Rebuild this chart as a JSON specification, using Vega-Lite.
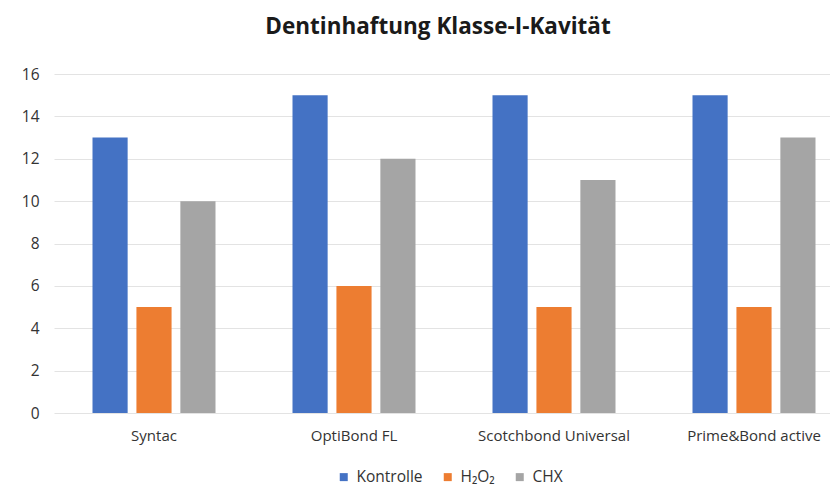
{
  "$schema": "https://vega.github.io/schema/vega-lite/v6.json",
  "autosize": "none",
  "width": 800,
  "height": 339,
  "padding": {"left": 54, "top": 74, "right": 0, "bottom": 79},
  "background": "white",
  "title": {
    "text": "Dentinhaftung Klasse-I-Kavität",
    "anchor": "middle",
    "frame": "group",
    "dx": -16,
    "offset": 29,
    "font": "Open Sans",
    "fontSize": 22.5,
    "fontWeight": "bold",
    "color": "#1a1a1a"
  },
  "data": {
    "values": [
      {"Adhäsiv": "Syntac", "Gruppe": "Kontrolle", "Wert": 13},
      {"Adhäsiv": "Syntac", "Gruppe": "H₂O₂", "Wert": 5},
      {"Adhäsiv": "Syntac", "Gruppe": "CHX", "Wert": 10},
      {"Adhäsiv": "OptiBond FL", "Gruppe": "Kontrolle", "Wert": 15},
      {"Adhäsiv": "OptiBond FL", "Gruppe": "H₂O₂", "Wert": 6},
      {"Adhäsiv": "OptiBond FL", "Gruppe": "CHX", "Wert": 12},
      {"Adhäsiv": "Scotchbond Universal", "Gruppe": "Kontrolle", "Wert": 15},
      {"Adhäsiv": "Scotchbond Universal", "Gruppe": "H₂O₂", "Wert": 5},
      {"Adhäsiv": "Scotchbond Universal", "Gruppe": "CHX", "Wert": 11},
      {"Adhäsiv": "Prime&Bond active", "Gruppe": "Kontrolle", "Wert": 15},
      {"Adhäsiv": "Prime&Bond active", "Gruppe": "H₂O₂", "Wert": 5},
      {"Adhäsiv": "Prime&Bond active", "Gruppe": "CHX", "Wert": 13}
    ]
  },
  "mark": {"type": "bar"},
  "encoding": {
    "x": {
      "field": "Adhäsiv",
      "type": "nominal",
      "sort": ["Syntac", "OptiBond FL", "Scotchbond Universal", "Prime&Bond active"],
      "scale": {"paddingInner": 0.385, "paddingOuter": 0.1925},
      "axis": {
        "title": null,
        "labelAngle": 0,
        "domain": false,
        "ticks": false,
        "labelFont": "Open Sans",
        "labelFontSize": 15,
        "labelColor": "#333333",
        "labelPadding": 15
      }
    },
    "xOffset": {
      "field": "Gruppe",
      "type": "nominal",
      "sort": ["Kontrolle", "H₂O₂", "CHX"],
      "scale": {"paddingInner": 0.2, "paddingOuter": 0}
    },
    "y": {
      "field": "Wert",
      "type": "quantitative",
      "scale": {"domain": [0, 16]},
      "axis": {
        "title": null,
        "values": [0, 2, 4, 6, 8, 10, 12, 14, 16],
        "domain": false,
        "ticks": false,
        "grid": true,
        "gridColor": "#e3e3e3",
        "gridWidth": 1,
        "labelFont": "Open Sans",
        "labelFontSize": 15.5,
        "labelColor": "#333333",
        "labelPadding": 15
      }
    },
    "color": {
      "field": "Gruppe",
      "type": "nominal",
      "sort": ["Kontrolle", "H₂O₂", "CHX"],
      "scale": {"domain": ["Kontrolle", "H₂O₂", "CHX"], "range": ["#4472C4", "#ED7D31", "#A5A5A5"]},
      "legend": {
        "title": null,
        "orient": "none",
        "direction": "horizontal",
        "legendX": 282,
        "legendY": 395,
        "symbolType": "square",
        "symbolSize": 64,
        "symbolStrokeWidth": 0,
        "labelFont": "Open Sans",
        "labelFontSize": 15.5,
        "labelColor": "#333333",
        "labelOffset": 5,
        "columnPadding": 17
      }
    }
  },
  "config": {
    "view": {"stroke": null}
  }
}
